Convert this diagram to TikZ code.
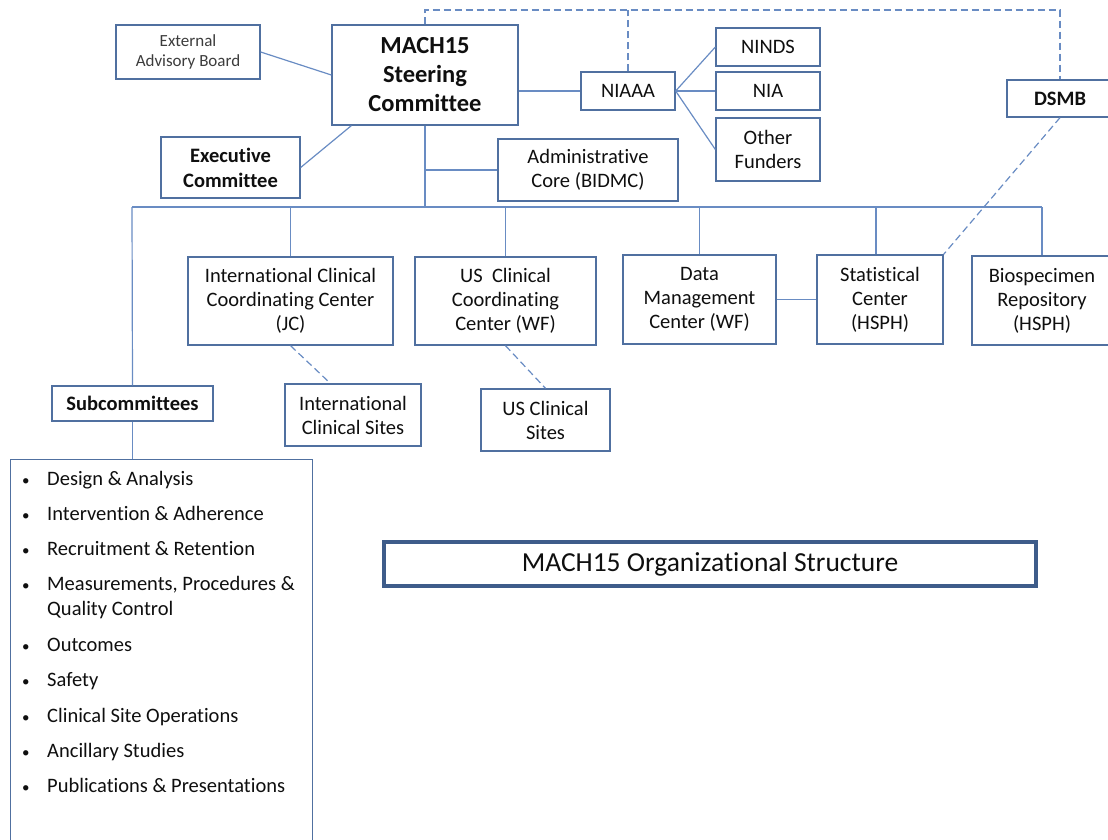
\documentclass[tikz,border=0pt]{standalone}
\usepackage{fontspec}
\setmainfont{Carlito}[Ligatures=NoCommon]
\usetikzlibrary{calc}
\definecolor{ln}{RGB}{105,140,195}
\definecolor{bx}{RGB}{80,112,160}
\definecolor{tb}{RGB}{62,92,138}
\definecolor{tx}{RGB}{15,15,15}
\begin{document}
\begin{tikzpicture}[x=1pt,y=-1pt,
  box/.style={draw=bx,line width=1.3pt,fill=white,rectangle,align=center,inner sep=0pt,text=tx,
    font=\fontsize{20.5}{24}\selectfont},
  conn/.style={draw=ln,line width=1.2pt},
  dconn/.style={draw=ln,line width=1.2pt,dash pattern=on 7pt off 4pt},
  item/.style={anchor=base west,inner sep=0pt,text=tx,align=left,font=\fontsize{20.5}{25}\selectfont},
  bul/.style={anchor=base west,inner sep=0pt,text=tx,font=\fontsize{15}{25}\selectfont}]
\useasboundingbox (0,0) rectangle (1108,840);
\clip (0,0) rectangle (1108,840);
% nodes
\node[box,minimum width=144pt,minimum height=54pt,font=\fontsize{17}{20.5}\selectfont,text={rgb,255:red,60;green,60;blue,60}] (eab) at (188,52) {External\\Advisory Board};
\node[box,minimum width=186pt,minimum height=100pt,font=\fontsize{24.5}{29}\selectfont\bfseries] (mach) at (425,75) {MACH15\\Steering\\Committee};
\node[box,minimum width=139pt,minimum height=61pt,font=\fontsize{20.5}{25}\selectfont\bfseries] (exec) at (230.5,167.5) {Executive\\Committee};
\node[box,minimum width=180pt,minimum height=62pt] (admin) at (588,170) {Administrative\\Core (BIDMC)};
\node[box,minimum width=94pt,minimum height=38pt] (niaaa) at (628,91) {NIAAA};
\node[box,minimum width=104pt,minimum height=38pt] (ninds) at (768,47) {NINDS};
\node[box,minimum width=104pt,minimum height=38pt] (nia) at (768,91) {NIA};
\node[box,minimum width=104pt,minimum height=63pt] (other) at (768,149.5) {Other\\Funders};
\node[box,minimum width=106pt,minimum height=37pt,font=\fontsize{20.5}{24}\selectfont\bfseries] (dsmb) at (1060,98.5) {DSMB};
\node[box,minimum width=205pt,minimum height=88pt] (iccc) at (290.5,301) {International Clinical\\Coordinating Center\\(JC)};
\node[box,minimum width=181pt,minimum height=88pt] (usccc) at (505.5,301) {US\ \ Clinical\\Coordinating\\Center (WF)};
\node[box,minimum width=153pt,minimum height=89pt] (dm) at (699.5,299.5) {Data\\Management\\Center (WF)};
\node[box,minimum width=126pt,minimum height=89pt] (stat) at (880,299.5) {Statistical\\Center\\(HSPH)};
\node[box,minimum width=140pt,minimum height=89pt] (bio) at (1042,300.5) {Biospecimen\\Repository\\(HSPH)};
\node[box,minimum width=161pt,minimum height=35pt,font=\fontsize{20.5}{24}\selectfont\bfseries] (subc) at (132.5,403.5) {Subcommittees};
\node[box,minimum width=136pt,minimum height=62pt] (ics) at (353,415) {International\\Clinical Sites};
\node[box,minimum width=129pt,minimum height=62pt] (uscs) at (545.5,420) {US Clinical\\Sites};
\node[box,minimum width=302pt,minimum height=400pt,anchor=north west] (list) at (10,459) {};
\node[box,line width=3.2pt,draw=tb,minimum width=652pt,minimum height=44pt,font=\fontsize{27.5}{32}\selectfont] (title) at (710,564) {MACH15 Organizational Structure};
% list items
\foreach \n/\y/\t in {i1/485/{Design \& Analysis}, i2/520/{Intervention \& Adherence}, i3/555/{Recruitment \& Retention},
  i4/590/{Measurements, Procedures \&}, i6/651/{Outcomes}, i7/686/{Safety}, i8/722/{Clinical Site Operations},
  i9/757/{Ancillary Studies}, i10/792/{Publications \& Presentations}}{
  \node[item] (\n) at (47,\y) {\t};
  \node[bul] (b\n) at (22,\y) {•};
}
\node[item] (i5) at (47,615) {Quality Control};
% coordinates
\coordinate (busL) at (132,207);
\coordinate (busR) at (1042,207);
\coordinate (top) at (425,10);
% connectors
\draw[conn] (eab.east) -- (mach.west);
\draw[conn] (exec.east) -- ($(mach.south west)+(20,0)$);
\draw[conn] ($(mach.east)+(0,16)$) -- (niaaa.west);
\draw[conn] (niaaa.east) -- (ninds.west);
\draw[conn] (niaaa.east) -- (nia.west);
\draw[conn] (niaaa.east) -- (other.west);
\draw[conn] (mach.south) -- (mach.south |- busL);
\draw[conn] (admin.west) -- (admin.west -| mach.south);
\draw[conn] (busL) -- (busR);
\draw[conn] (busL) -- (subc.north);
\draw[conn] (iccc.north) -- (iccc.north |- busL);
\draw[conn] (usccc.north) -- (usccc.north |- busL);
\draw[conn] (dm.north) -- (dm.north |- busL);
\draw[conn] ($(stat.north)+(-4,0)$) -- ($(stat.north |- busL)+(-4,0)$);
\draw[conn] (bio.north) -- (busR);
\draw[conn] (dm.east) -- (stat.west);
\draw[conn] (subc.south) -- (subc.south |- list.north);
\draw[dconn] (mach.north) -- (top) -| (dsmb.north);
\draw[dconn] (niaaa.north) -- (niaaa.north |- top);
\draw[dconn] (dsmb.south) -- (stat.north east);
\draw[dconn] (iccc.south) -- ($(ics.north west)+(46,0)$);
\draw[dconn] (usccc.south) -- (uscs.north);
\end{tikzpicture}
\end{document}
